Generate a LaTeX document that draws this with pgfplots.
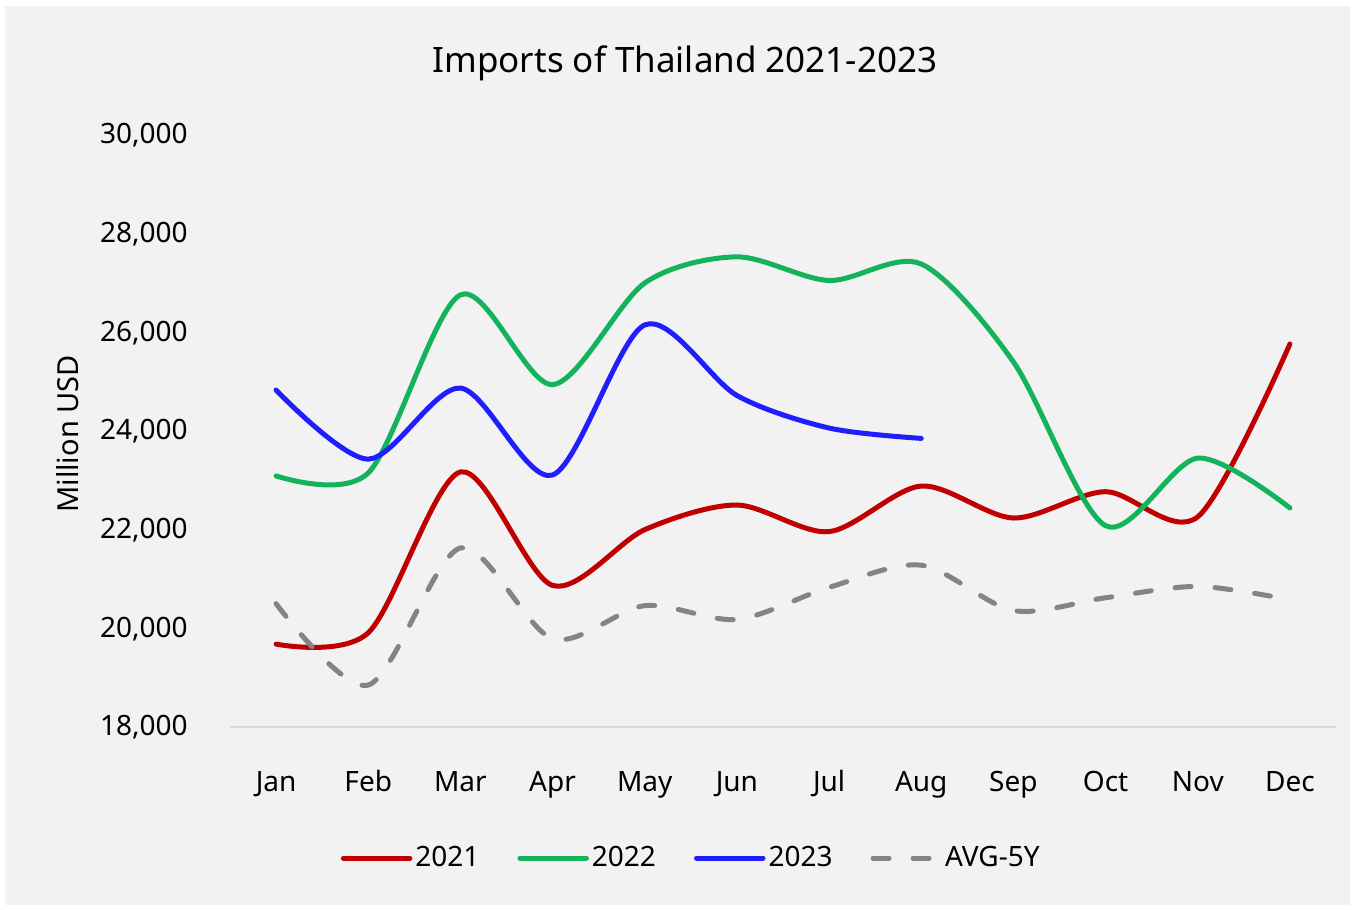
\documentclass[border=0pt]{standalone}
\usepackage{pgfplots}
\pgfplotsset{compat=1.18}
\usepackage{fontspec}
\setmainfont{Noto Sans}
\definecolor{bgc}{HTML}{F2F2F2}
\definecolor{c21}{HTML}{C00000}
\definecolor{c22}{HTML}{12B35A}
\definecolor{c23}{HTML}{1E1EFF}
\definecolor{cavg}{HTML}{848484}
\definecolor{base}{HTML}{D9D9D9}
\begin{document}
\begin{tikzpicture}[x=1pt,y=1pt]
\fill[white] (0,0) rectangle (677.5,455);
\fill[bgc] (2.5,2.5) rectangle (675,452);
\node[anchor=base,font=\fontsize{17.5}{20}\selectfont] at (342.5,418.6) {Imports of Thailand 2021-2023};
\node[anchor=base,rotate=90,font=\fontsize{14.5}{16}\selectfont] at (39.2,238) {Million USD};
\begin{axis}[
  at={(115pt,91.5pt)}, anchor=south west,
  scale only axis, width=553pt, height=296pt,
  xmin=-0.5, xmax=11.5, ymin=18000, ymax=30000,
  axis line style={draw=none},
  major tick length=0pt,
  xtick={0,...,11},
  xticklabels={Jan,Feb,Mar,Apr,May,Jun,Jul,Aug,Sep,Oct,Nov,Dec},
  ytick={18000,20000,...,30000},
  scaled y ticks=false,
  /pgf/number format/1000 sep={,},
  /pgf/number format/assume math mode=true,
  ticklabel style={font=\fontsize{14}{16}\selectfont, inner sep=0pt},
  xticklabel style={anchor=base, yshift=-32.5pt},
  yticklabel style={anchor=base east, xshift=-21pt, yshift=-4.5pt},
  clip=false,
  legend columns=4,
  legend style={at={(0.4175,-0.2213)}, anchor=center, draw=none, fill=none,
    font=\fontsize{14}{16}\selectfont,
    nodes={inner sep=1.5pt},
    /tikz/every even column/.append style={column sep=17.5pt}},
  legend image code/.code={\draw[#1] (1.25pt,0pt) -- (34.5pt,0pt);},
  every axis plot/.append style={line width=2.5pt, line cap=round, line join=round},
]
\draw[base, line width=1pt] (rel axis cs:0,0) -- (rel axis cs:1,0);
\addplot[c21, smooth] coordinates {
(0,19680) (1,19910) (2,23170) (3,20870) (4,22000) (5,22500) (6,21960) (7,22885) (8,22236) (9,22770) (10,22260) (11,25763)};
\addlegendentry{2021}
\addplot[c22, smooth] coordinates {
(0,23090) (1,23150) (2,26760) (3,24940) (4,27000) (5,27530) (6,27050) (7,27385) (8,25400) (9,22080) (10,23450) (11,22440)};
\addlegendentry{2022}
\addplot[c23, smooth] coordinates {
(0,24830) (1,23430) (2,24870) (3,23108) (4,26150) (5,24720) (6,24060) (7,23850)};
\addlegendentry{2023}
\addplot[cavg, smooth, dash pattern=on 8pt off 12pt] coordinates {
(0,20500) (1,18850) (2,21630) (3,19790) (4,20460) (5,20180) (6,20830) (7,21280) (8,20360) (9,20620) (10,20850) (11,20580)};
\addlegendentry{AVG-5Y}
\end{axis}
\end{tikzpicture}
\end{document}
